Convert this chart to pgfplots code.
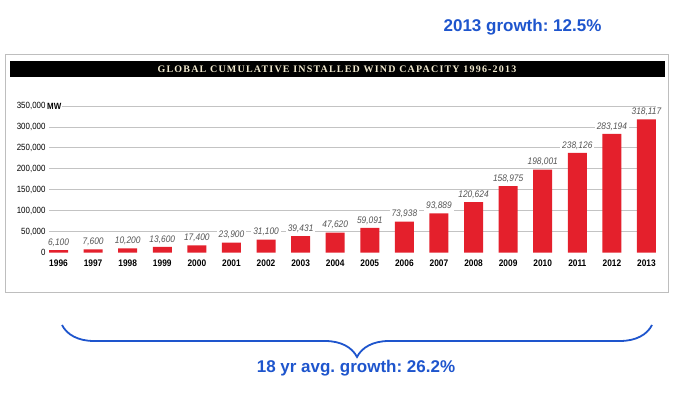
\documentclass[border=0pt]{standalone}
\usepackage{pgfplots}
\pgfplotsset{compat=1.18}
\usetikzlibrary{decorations.pathreplacing}
\usepackage{fontspec}
\setmainfont{Liberation Sans}
\newfontfamily\cond[FakeStretch=0.88]{Liberation Sans}
\newfontfamily\titlefont[LetterSpace=12]{Liberation Serif}
\definecolor{barred}{RGB}{228,32,44}
\definecolor{bluetxt}{RGB}{30,85,205}
\definecolor{gridgray}{RGB}{195,195,195}
\definecolor{framegray}{RGB}{190,190,190}
\definecolor{cream}{RGB}{240,232,205}
\definecolor{lblgray}{RGB}{85,85,85}
\frenchspacing
\begin{document}
\begin{tikzpicture}[x=1pt,y=1pt]
\path[use as bounding box] (0,0) rectangle (680,398);
% frame
\draw[framegray, line width=1pt] (5,105) rectangle (668,343);
% title bar
\fill[black] (10,320.5) rectangle (665,337);
\node[text=cream, font=\titlefont\bfseries\fontsize{10}{12}\selectfont] at (337,328.5) {GLOBAL CUMULATIVE INSTALLED WIND CAPACITY 1996-2013};
% top text
\node[text=bluetxt, font=\bfseries\fontsize{17}{20}\selectfont] at (522.5,371) {2013 growth: 12.5\%};
\begin{axis}[
  at={(49pt,145.4pt)}, anchor=south west,
  scale only axis, width=607pt, height=146.6pt,
  xmin=-0.275, xmax=17.275, ymin=0, ymax=350000,
  axis line style={draw=none},
  major tick length=0pt,
  xtick=data,
  xticklabels={1996,1997,1998,1999,2000,2001,2002,2003,2004,2005,2006,2007,2008,2009,2010,2011,2012,2013},
  xticklabel style={font=\cond\bfseries\fontsize{9.5}{10}\selectfont, yshift=-4pt},
  ytick={50000,100000,...,350000},
  extra y ticks={0},
  extra y tick style={grid=none},
  ymajorgrids,
  grid style={gridgray, line width=0.8pt},
  scaled y ticks=false,
  yticklabel style={font=\cond\fontsize{9}{10}\selectfont, /pgf/number format/.cd, fixed, 1000 sep={,}, assume math mode=true},
  ybar, bar width=19pt,
  nodes near coords={\pgfmathprintnumber[fixed,precision=0,1000 sep={,},assume math mode=true]{\pgfplotspointmeta}},
  every node near coord/.append style={anchor=center, yshift=7.5pt, font=\cond\itshape\fontsize{9.5}{10}\selectfont, text=lblgray, fill=white, inner xsep=2pt, inner ysep=1pt},
  clip=false,
]
\addplot[fill=barred, draw=none] coordinates {
(0,6100) (1,7600) (2,10200) (3,13600) (4,17400) (5,23900) (6,31100) (7,39431) (8,47620) (9,59091) (10,73938) (11,93889) (12,120624) (13,158975) (14,198001) (15,238126) (16,283194) (17,318117)};
\end{axis}
\node[fill=white, inner sep=1pt, anchor=west, font=\cond\bfseries\fontsize{9}{10}\selectfont] at (46,292) {MW};
% brace
\draw[bluetxt, line width=1.8pt, decorate, decoration={brace, mirror, amplitude=32pt}] (62,73) -- (652,73);
\node[text=bluetxt, font=\bfseries\fontsize{17}{20}\selectfont] at (356,30) {18 yr avg. growth: 26.2\%};
\end{tikzpicture}
\end{document}
